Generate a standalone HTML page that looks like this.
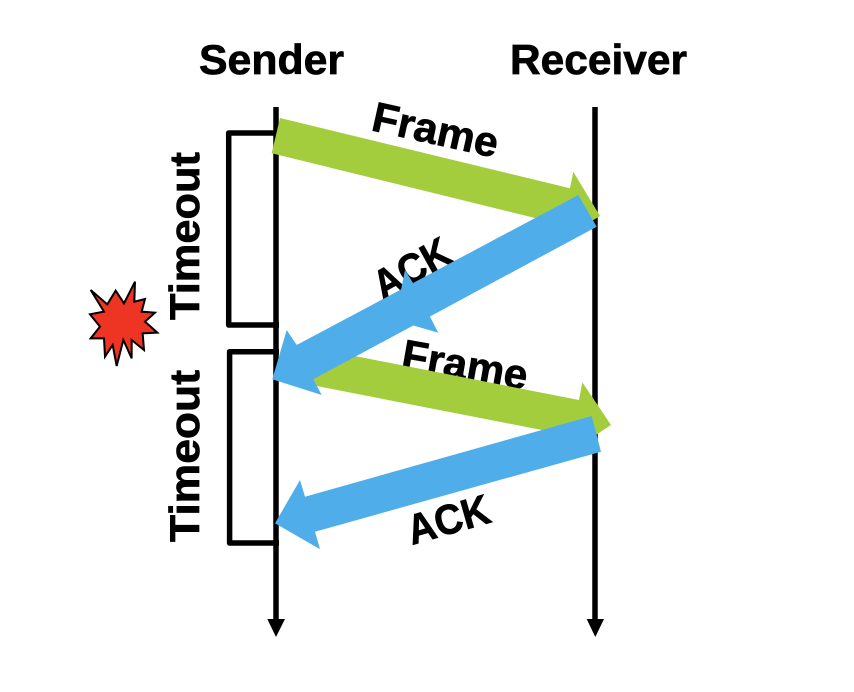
<!DOCTYPE html>
<html><head><meta charset="utf-8"><style>
html,body{margin:0;padding:0;background:#fff}
svg{display:block}
text{font-family:"Liberation Sans",sans-serif;font-weight:bold;font-size:42px;fill:#000;stroke:#000;stroke-width:.7px}
</style></head><body>
<svg width="854" height="692" viewBox="0 0 854 692" xmlns="http://www.w3.org/2000/svg">
<rect width="854" height="692" fill="#fff"/>
<text x="199" y="74" textLength="145" lengthAdjust="spacingAndGlyphs">Sender</text>
<text x="510" y="74" textLength="177" lengthAdjust="spacingAndGlyphs">Receiver</text>
<text transform="translate(370,130) rotate(12.5)" textLength="128" lengthAdjust="spacingAndGlyphs">Frame</text>
<text transform="translate(383,301) rotate(-29)" textLength="82" lengthAdjust="spacingAndGlyphs">ACK</text>
<text transform="translate(400,368) rotate(10)" textLength="127" lengthAdjust="spacingAndGlyphs">Frame</text>
<text transform="translate(412,545) rotate(-16)" textLength="84" lengthAdjust="spacingAndGlyphs">ACK</text>
<text transform="translate(199,320) rotate(-90)" textLength="168" lengthAdjust="spacingAndGlyphs">Timeout</text>
<text transform="translate(199,542) rotate(-90)" textLength="172" lengthAdjust="spacingAndGlyphs">Timeout</text>
<g fill="none" stroke="#000" stroke-width="5.5" stroke-linejoin="round">
<path d="M276 107V622"/><path d="M595 107V622"/>
<path d="M279 133H228.7V325H279"/>
<path d="M279 351.7H229.6V543H279"/>
</g>
<polygon points="267.3,619 285,619 276,637" fill="#000"/>
<polygon points="586.7,619 604,619 595.3,637" fill="#000"/>
<polygon points="280,118 570,188.3 573.3,171.7 600,216 556,243 535,218 271.7,153.3" fill="#a4cd3e"/>
<polygon points="296,344.5 579,400 582.3,382.3 611,425 570,452 541.7,430 289,380.6" fill="#a4cd3e"/>
<polygon points="401,290 405,270 413,283 430,316.7 438.3,332.7 411.7,325 390,320" fill="#4faeea"/>
<polygon points="578.3,195 596.7,226.7 313.3,379.3 321.7,395 272.3,379.3 286.7,330 296.7,345" fill="#4faeea"/>
<polygon points="591.7,416 601,451.7 315,531.7 320,549.3 275,523.3 300,480 305,496.7" fill="#4faeea"/>
<polygon transform="translate(80,270) scale(.3333)" points="32,60 82,103 107,62 132,100 165,35 163,95 195,87 185,125 225,128 195,155 232,188 188,190 192,240 155,210 155,265 130,210 110,288 98,225 75,260 72,205 32,205 60,170 30,133 72,125" fill="#ee3524" stroke="#000" stroke-width="6" stroke-linejoin="miter"/>
</svg>
</body></html>
